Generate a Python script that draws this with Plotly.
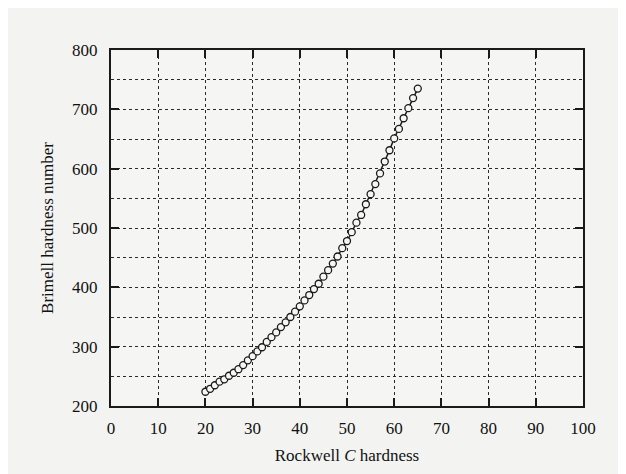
import plotly.graph_objects as go

rockwell_c = list(range(20, 66))
brinell = [224, 229, 235, 241, 245, 251, 256, 262, 269, 277, 284, 292, 299, 308, 316, 324,
           333, 341, 350, 359, 368, 378, 387, 397, 406, 418, 429, 440, 452, 466, 478, 493,
           509, 522, 540, 557, 574, 592, 612, 631, 651, 667, 685, 702, 719, 735]

x_ticks = list(range(0, 101, 10))
y_ticks = list(range(200, 801, 100))

fig = go.Figure()
fig.add_trace(go.Scatter(
    x=rockwell_c, y=brinell, mode="lines+markers",
    line=dict(color="#1a1a1a", width=1.5),
    marker=dict(symbol="circle", size=7, color="#f6f7f4",
                line=dict(color="#1a1a1a", width=1.3)),
    showlegend=False,
))

font = dict(family="Liberation Serif, Times New Roman, serif", color="#111111")
grid = dict(gridcolor="#2a2a2a", gridwidth=1, griddash="dot")

fig.update_layout(
    width=618, height=466,
    margin=dict(l=103, r=43, t=42, b=58),
    paper_bgcolor="#f3f4f1", plot_bgcolor="#f5f6f3",
    font=dict(size=17, **font),
    xaxis=dict(
        range=[0, 100], tickvals=x_ticks, ticks="inside", ticklen=8,
        tickcolor="#1a1a1a", tickwidth=1.5,
        showline=True, linecolor="#1a1a1a", linewidth=2, mirror="ticks",
        showgrid=True, zeroline=False, ticklabelstandoff=6,
        title=dict(text="Rockwell <i>C</i> hardness", font=dict(size=17, **font), standoff=12),
        **grid,
    ),
    yaxis=dict(
        range=[200, 800], tickvals=y_ticks, ticks="inside", ticklen=8,
        tickcolor="#1a1a1a", tickwidth=1.5,
        showline=True, linecolor="#1a1a1a", linewidth=2, mirror="ticks",
        showgrid=True, zeroline=False, ticklabelstandoff=8,
        minor=dict(dtick=50, showgrid=True, gridcolor="#2a2a2a", griddash="dot", gridwidth=1, ticks=""),
        title=dict(text="Brimell hardness number", font=dict(size=17, **font), standoff=14),
        **grid,
    ),
)

fig.write_html("out.html")
